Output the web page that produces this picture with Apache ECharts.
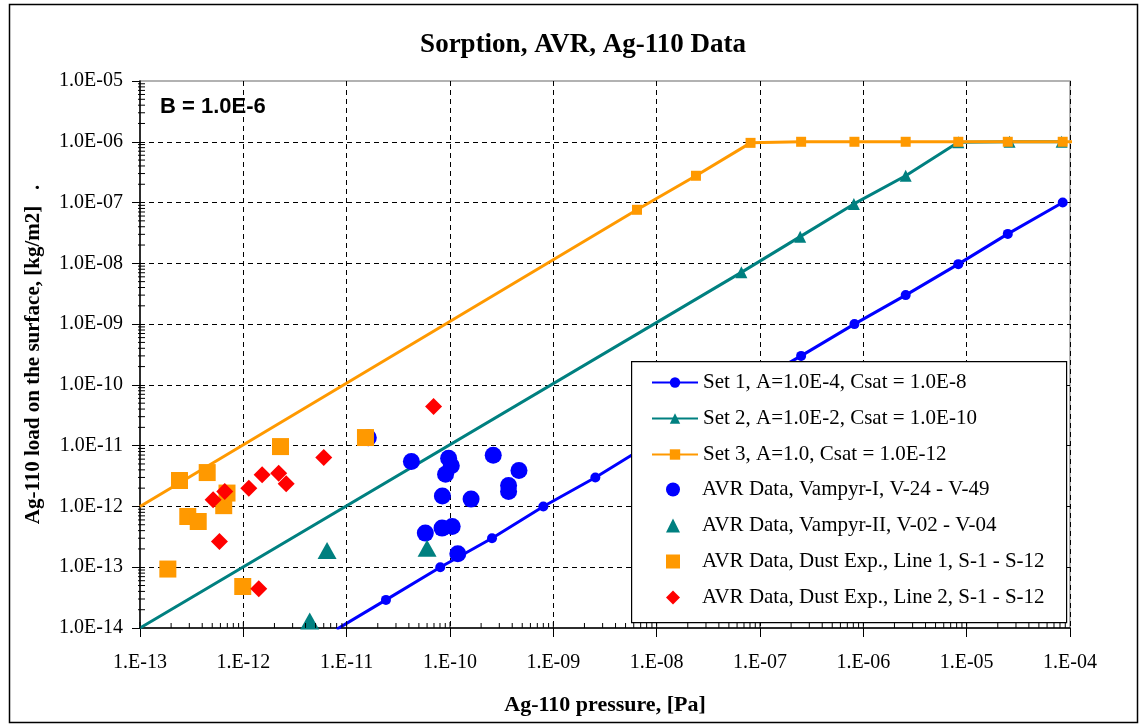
<!DOCTYPE html>
<html><head><meta charset="utf-8">
<script src="https://cdn.jsdelivr.net/npm/echarts@6.0.0/dist/echarts.min.js"></script>
<style>html,body{margin:0;padding:0;background:#fff}#c{width:1141px;height:724px}</style>
</head><body><div id="c"></div>
<script>
// ---- tick labels ----
const xTickLabels = ['1.E-13','1.E-12','1.E-11','1.E-10','1.E-09','1.E-08','1.E-07','1.E-06','1.E-05','1.E-04'];
const yTickLabels = ['1.0E-14','1.0E-13','1.0E-12','1.0E-11','1.0E-10','1.0E-09','1.0E-08','1.0E-07','1.0E-06','1.0E-05'];

// ---- series names ----
const seriesNames = [
  'Set 1, A=1.0E-4, Csat = 1.0E-8',
  'Set 2, A=1.0E-2, Csat = 1.0E-10',
  'Set 3, A=1.0, Csat = 1.0E-12',
  'AVR Data, Vampyr-I, V-24 - V-49',
  'AVR Data, Vampyr-II, V-02 - V-04',
  'AVR Data, Dust Exp., Line 1, S-1 - S-12',
  'AVR Data, Dust Exp., Line 2, S-1 - S-12'
];

// ---- model curves ----
const set1X = [8.0e-12, 2.4e-11, 8.05e-11, 2.55e-10, 8.0e-10, 2.55e-9, 8.05e-9, 2.55e-8, 8.05e-8, 2.5e-7, 8.2e-7, 2.57e-6, 8.3e-6, 2.5e-5, 8.5e-5];
const set1Y = [9.5e-15, 2.9e-14, 1.0e-13, 3.0e-13, 1.0e-12, 3.0e-12, 1.0e-11, 3.0e-11, 1.0e-10, 3.0e-10, 1.0e-9, 3.0e-9, 9.7e-9, 3.05e-8, 1.0e-7];

const set2X = [1.0e-13, 6.6e-8, 2.45e-7, 8.1e-7, 2.57e-6, 8.3e-6, 2.6e-5, 8.3e-5];
const set2Y = [1.0e-14, 7.1e-9, 2.75e-8, 9.5e-8, 2.76e-7, 9.8e-7, 1.0e-6, 1.0e-6];

const set3X = [1.0e-13, 6.45e-9, 2.4e-8, 8.1e-8, 2.5e-7, 8.2e-7, 2.57e-6, 8.3e-6, 2.5e-5, 8.5e-5, 1.26e-4];
const set3Y = [1.0e-12, 7.6e-8, 2.76e-7, 9.6e-7, 1.0e-6, 1.0e-6, 1.0e-6, 1.0e-6, 1.0e-6, 1.0e-6, 1.0e-6];

// ---- measured data ----
const vampyr1X = [4.23e-11, 9.7e-11, 1.03e-10, 9.06e-11, 2.62e-10, 4.65e-10, 3.69e-10, 3.69e-10, 8.44e-11, 1.6e-10, 5.77e-11, 8.38e-11, 1.05e-10, 1.19e-10, 1.62e-11];
const vampyr1Y = [5.47e-12, 6.2e-12, 4.66e-12, 3.4e-12, 6.98e-12, 3.89e-12, 2.21e-12, 1.76e-12, 1.49e-12, 1.32e-12, 3.64e-13, 4.4e-13, 4.67e-13, 1.66e-13, 1.35e-11];

const vampyr2X = [6.46e-12, 6.0e-11, 4.39e-12];
const vampyr2Y = [1.88e-13, 2.06e-13, 1.3e-14];

const dust1X = [2.41e-13, 4.47e-13, 6.95e-13, 6.46e-13, 2.9e-13, 3.66e-13, 1.86e-13, 9.87e-13, 2.29e-12, 1.52e-11];
const dust1Y = [2.67e-12, 3.61e-12, 1.66e-12, 1.03e-12, 6.83e-13, 5.65e-13, 9.33e-14, 4.82e-14, 9.66e-12, 1.36e-11];

const dust2X = [6.93e-11, 6.0e-12, 1.52e-12, 2.2e-12, 2.6e-12, 1.13e-12, 6.61e-13, 5.1e-13, 5.87e-13, 1.41e-12];
const dust2Y = [4.4e-11, 6.37e-12, 3.31e-12, 3.53e-12, 2.36e-12, 2.0e-12, 1.76e-12, 1.29e-12, 2.65e-13, 4.42e-14];

// ---- helpers ----
const X_MIN = 1e-13, X_MAX = 1e-4, Y_MIN = 1e-14, Y_MAX = 1e-5;
const zip = (xs, ys) => xs.map((x, i) => [x, ys[i]]);
// hide the marker on endpoints that only carry the line to the plot edge
const lineData = (xs, ys, hideFirst, hideLast) => xs.map((x, i) => {
  const hide = (hideFirst && i === 0) || (hideLast && i === xs.length - 1);
  return hide ? { value: [x, ys[i]], symbol: 'none' } : [x, ys[i]];
});
const expIndex = (v, base) => Math.round(Math.log10(v)) - base;

// minor/inner tick positions (read through the axes by a custom series)
const tickData = [];
for (let e = -13; e < -4; e++) {
  tickData.push([Math.pow(10, e), Y_MIN, 1]);
  for (let k = 2; k <= 9; k++) tickData.push([k * Math.pow(10, e), Y_MIN, 0]);
}
for (let e = -14; e < -5; e++) {
  for (let k = 2; k <= 9; k++) tickData.push([X_MIN, k * Math.pow(10, e), 2]);
}

const serif = 'Liberation Serif, Times New Roman, serif';
const BLUE = '#0000FF', TEAL = '#008080', ORANGE = '#FF9900', RED = '#FF0000';
const legendText = { fontFamily: serif, fontSize: 21, color: '#000', lineHeight: 21 };

const chart = echarts.init(document.getElementById('c'), null, { renderer: 'canvas' });
chart.setOption({
  animation: false,
  backgroundColor: '#fff',
  title: {
    text: 'Sorption, AVR, Ag-110 Data',
    left: 578, top: 27, textAlign: 'center',
    textStyle: { fontFamily: serif, fontWeight: 'bold', fontSize: 27, color: '#000' }
  },
  grid: {
    left: 140, right: 71, top: 81, bottom: 96,
    show: true, borderColor: '#999', borderWidth: 1.5, backgroundColor: 'transparent'
  },
  legend: [
    {
      orient: 'vertical', left: 651, top: 372, padding: 0,
      itemWidth: 46, itemHeight: 13, itemGap: 15,
      data: seriesNames.slice(0, 3),
      textStyle: legendText, selectedMode: false, z: 10
    },
    {
      orient: 'vertical', left: 666, top: 479, padding: 0,
      itemWidth: 14, itemHeight: 14, itemGap: 15,
      symbolKeepAspect: true,
      data: seriesNames.slice(3),
      textStyle: Object.assign({ padding: [0, 0, 0, 17] }, legendText),
      selectedMode: false, z: 10
    }
  ],
  xAxis: {
    type: 'log', logBase: 10, min: X_MIN, max: X_MAX, splitNumber: 9,
    name: 'Ag-110 pressure, [Pa]', nameLocation: 'middle', nameGap: 66,
    nameTextStyle: { fontFamily: serif, fontWeight: 'bold', fontSize: 22, color: '#000' },
    axisLine: { show: true, onZero: false, lineStyle: { color: '#000', width: 1.5 } },
    axisTick: { show: true, inside: false, length: 9, lineStyle: { color: '#000', width: 1 } },
    axisLabel: {
      margin: 25, fontFamily: serif, fontSize: 20, color: '#000',
      formatter: v => xTickLabels[expIndex(v, -13)]
    },
    splitLine: { show: true, showMinLine: false, showMaxLine: false, lineStyle: { color: '#000', type: [5, 4], width: 1 } }
  },
  yAxis: {
    type: 'log', logBase: 10, min: Y_MIN, max: Y_MAX, splitNumber: 9,
    name: 'Ag-110 load on the surface, [kg/m2]   .', nameLocation: 'middle', nameGap: 96, nameRotate: 90,
    nameTextStyle: { fontFamily: serif, fontWeight: 'bold', fontSize: 21, color: '#000' },
    axisLine: { show: true, onZero: false, lineStyle: { color: '#000', width: 1.5 } },
    axisTick: { show: true, inside: false, length: 8, lineStyle: { color: '#000', width: 1 } },
    axisLabel: {
      margin: 17, fontFamily: serif, fontSize: 20, color: '#000',
      formatter: v => yTickLabels[expIndex(v, -14)]
    },
    splitLine: { show: true, showMinLine: false, showMaxLine: false, lineStyle: { color: '#000', type: [5, 4], width: 1 } }
  },
  graphic: [
    { type: 'rect', left: 7, top: 2, shape: { width: 1128, height: 718 }, style: { fill: 'none', stroke: '#000', lineWidth: 1.5 }, z: -1, silent: true },
    { type: 'rect', left: 631, top: 361, shape: { width: 435, height: 261 }, style: { fill: '#fff', stroke: '#000', lineWidth: 1.2 }, z: 5, silent: true },
    { type: 'text', left: 160, top: 96, style: { text: 'B = 1.0E-6', fontFamily: 'Liberation Sans, Arial, sans-serif', fontWeight: 'bold', fontSize: 22, fill: '#000' }, z: 5, silent: true }
  ],
  series: [
    {
      name: seriesNames[0], type: 'line', data: lineData(set1X, set1Y, false, false),
      symbol: 'circle', symbolSize: 10, showAllSymbol: true, clip: true,
      lineStyle: { color: BLUE, width: 3 }, itemStyle: { color: BLUE }, z: 2
    },
    {
      name: seriesNames[1], type: 'line', data: lineData(set2X, set2Y, true, false),
      symbol: 'triangle', symbolSize: 12, showAllSymbol: true, clip: true,
      lineStyle: { color: TEAL, width: 3 }, itemStyle: { color: TEAL }, z: 2
    },
    {
      name: seriesNames[2], type: 'line', data: lineData(set3X, set3Y, true, true),
      symbol: 'rect', symbolSize: 10, showAllSymbol: true, clip: false,
      lineStyle: { color: ORANGE, width: 3 }, itemStyle: { color: ORANGE }, z: 2
    },
    {
      name: seriesNames[3], type: 'scatter', data: zip(vampyr1X, vampyr1Y),
      symbol: 'circle', symbolSize: 17, itemStyle: { color: BLUE, opacity: 1 }, z: 3
    },
    {
      name: seriesNames[4], type: 'scatter', data: zip(vampyr2X, vampyr2Y),
      symbol: 'triangle', symbolSize: [19, 17], itemStyle: { color: TEAL, opacity: 1 }, z: 3
    },
    {
      name: seriesNames[5], type: 'scatter', data: zip(dust1X, dust1Y),
      symbol: 'rect', symbolSize: 17, itemStyle: { color: ORANGE, opacity: 1 }, z: 3
    },
    {
      name: seriesNames[6], type: 'scatter', data: zip(dust2X, dust2Y),
      symbol: 'diamond', symbolSize: 17, itemStyle: { color: RED, opacity: 1 }, z: 3
    },
    {
      name: 'ticks', type: 'custom', data: tickData, silent: true, clip: false, z: 4,
      renderItem: (params, api) => {
        const p = api.coord([api.value(0), api.value(1)]);
        const kind = api.value(2);
        let shape;
        if (kind === 0) shape = { x1: p[0], y1: p[1], x2: p[0], y2: p[1] - 5 };
        else if (kind === 1) shape = { x1: p[0], y1: p[1], x2: p[0], y2: p[1] - 6 };
        else shape = { x1: p[0] - 2, y1: p[1], x2: p[0] + 5, y2: p[1] };
        return { type: 'line', shape: shape, style: { stroke: '#000', lineWidth: 1 } };
      }
    }
  ]
});
</script></body></html>
